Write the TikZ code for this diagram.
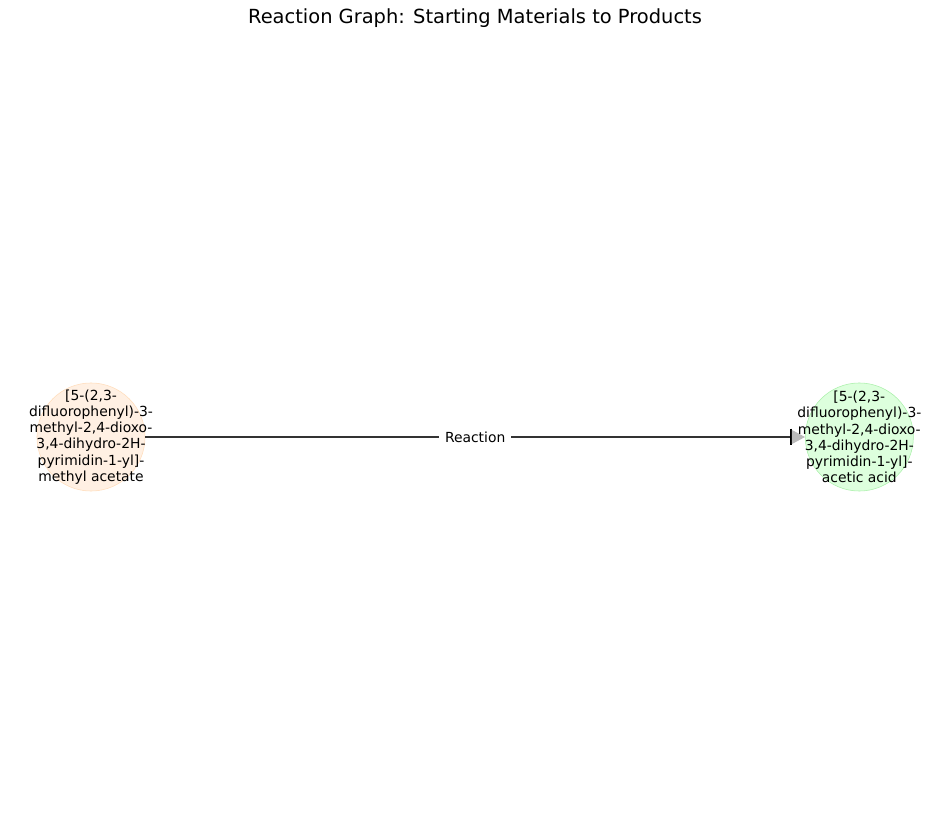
\documentclass[tikz,border=0pt]{standalone}
\usepackage{fontspec}
\setmainfont{DejaVu Sans}
\usepackage{xcolor}
\usetikzlibrary{arrows.meta, positioning}
\definecolor{startfill}{HTML}{FFF0E3}
\definecolor{startline}{HTML}{FFDDBB}
\definecolor{prodfill}{HTML}{DDFFDD}
\definecolor{prodline}{HTML}{AAF0AA}
\tikzset{
    molname/.style={align=center, inner sep=0pt, font=\fontsize{10}{11.7}\selectfont},
    reactant/.style={circle, draw=startline, fill=startfill, minimum size=77.8pt, inner sep=0pt},
    product/.style={circle, draw=prodline, fill=prodfill, minimum size=77.8pt, inner sep=0pt},
    arrow/.style={-{Bar[width=12pt,line width=1.2pt,black] Triangle[length=9.5pt,width=10pt,color=gray!55,fill=gray!55]}, line width=0.9pt, draw=black!80}
}

\begin{document}
\begin{tikzpicture}[x=0.72pt, y=-0.72pt]
    \useasboundingbox (0,0) rectangle (950,832);
    \node (title) at (475,18) {\fontsize{14}{16}\selectfont Reaction Graph: Starting Materials to Products};

    \node (ester) [reactant, label={[molname]center:{[5-(2,3-\\difluorophenyl)-3-\\methyl-2,4-dioxo-\\3,4-dihydro-2H-\\pyrimidin-1-yl]-\\methyl acetate}}] at (91,437) {};
    \node (acid) [product, right=475pt of ester, label={[molname]center:{[5-(2,3-\\difluorophenyl)-3-\\methyl-2,4-dioxo-\\3,4-dihydro-2H-\\pyrimidin-1-yl]-\\acetic acid}}] {};

    \draw[arrow] (ester) -- node (lbl) [fill=white, inner sep=4pt, font=\fontsize{10}{12}\selectfont] {Reaction} (acid);
\end{tikzpicture}
\end{document}
